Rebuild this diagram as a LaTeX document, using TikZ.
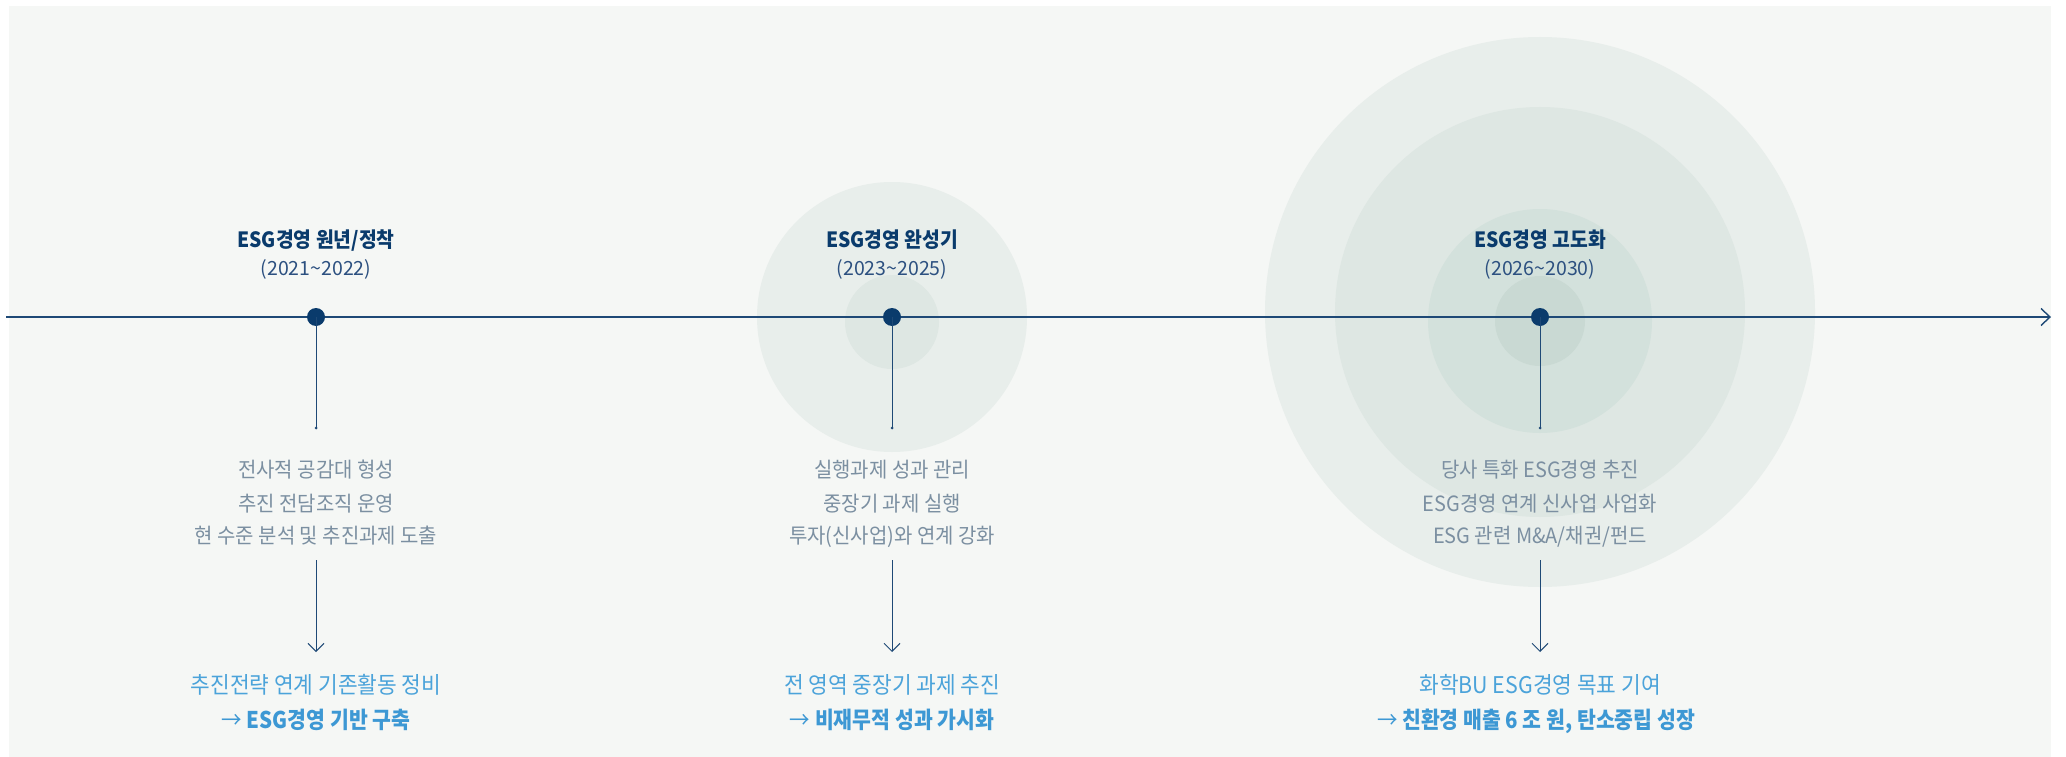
\documentclass[tikz,border=0pt]{standalone}
\usepackage{fontspec}
\usetikzlibrary{arrows.meta}
\newfontfamily\krtitle[FakeStretch=0.92]{Noto Sans CJK KR}
\newfontfamily\krdesc[FakeStretch=0.95]{Noto Sans CJK KR}
\newfontfamily\krres[FakeStretch=0.93]{Noto Sans CJK KR}
\newfontfamily\krresb[FakeStretch=0.89]{Noto Sans CJK KR}
\newfontfamily\krplain{Noto Sans CJK KR}
\definecolor{bgcol}{HTML}{F5F7F5}
\definecolor{ringA}{HTML}{E8EEEB}
\definecolor{ringB}{HTML}{DEE7E3}
\definecolor{ringC}{HTML}{D3E1DC}
\definecolor{ringD}{HTML}{C9D9D3}
\definecolor{navy}{HTML}{0A3B6C}
\definecolor{linecol}{HTML}{1E4976}
\definecolor{yearcol}{HTML}{2C5080}
\definecolor{desccol}{HTML}{7B8FA1}
\definecolor{rescol}{HTML}{4BA3DA}
\definecolor{resbold}{HTML}{3D98D4}
\tikzset{
  dotnode/.style={circle,fill=navy,inner sep=0pt,minimum size=18pt},
  titletext/.style={anchor=base,inner sep=0pt,text=navy,font=\krtitle\bfseries\fontsize{21}{25}\selectfont},
  yeartext/.style={anchor=base,inner sep=0pt,text=yearcol,font=\krplain\fontsize{19.5}{24}\selectfont},
  desctext/.style={anchor=base,inner sep=0pt,text=desccol,font=\krdesc\fontsize{21}{25}\selectfont},
  restext/.style={anchor=base,inner sep=0pt,text=rescol,font=\krres\fontsize{23}{27}\selectfont},
  resboldtext/.style={anchor=base,inner sep=0pt,text=resbold,font=\krresb\bfseries\fontsize{23}{27}\selectfont},
  stemline/.style={draw=linecol,line width=1pt},
  downarrow/.style={draw=linecol,line width=1pt,-{Straight Barb[length=8pt,width=16pt]}},
  mainline/.style={draw=linecol,line width=1.4pt,-{Straight Barb[length=9pt,width=17pt]}}
}
\begin{document}
\begin{tikzpicture}[x=1pt,y=-1pt]
\useasboundingbox (0,0) rectangle (2066,757);
\fill[bgcol] (9,6) rectangle (2051,757);
% rings around stage 2
\fill[ringA] (892,317) circle (135);
\fill[ringB] (892,322) circle (47);
% rings around stage 3
\fill[ringA] (1540,312) circle (275);
\fill[ringB] (1540,312) circle (205);
\fill[ringC] (1540,321) circle (112);
\fill[ringD] (1540,321) circle (45);
% timeline
\coordinate (tlstart) at (6,317);
\coordinate (tlend) at (2051,317);
\draw[mainline] (tlstart) -- (tlend);
% dots
\node[dotnode] (d1) at (316,317) {};
\node[dotnode] (d2) at (892,317) {};
\node[dotnode] (d3) at (1540,317) {};
% stems
\coordinate (s1) at (316,428);
\coordinate (s2) at (892,428);
\coordinate (s3) at (1540,428);
\draw[stemline] (d1.center) -- (s1);
\draw[stemline] (d2.center) -- (s2);
\draw[stemline] (d3.center) -- (s3);
\fill[linecol] (s1) circle (1.5);
\fill[linecol] (s2) circle (1.5);
\fill[linecol] (s3) circle (1.5);
% titles
\node[titletext] (t1) at (316,247) {ESG경영 원년/정착};
\node[yeartext] (y1) at (316,275) {(2021\textasciitilde 2022)};
\node[titletext] (t2) at (892,247) {ESG경영 완성기};
\node[yeartext] (y2) at (892,275) {(2023\textasciitilde 2025)};
\node[titletext] (t3) at (1540,247) {ESG경영 고도화};
\node[yeartext] (y3) at (1540,275) {(2026\textasciitilde 2030)};
% descriptions
\node[desctext] (p1a) at (316,477) {전사적 공감대 형성};
\node[desctext] (p1b) at (316,511) {추진 전담조직 운영};
\node[desctext] (p1c) at (316,543) {현 수준 분석 및 추진과제 도출};
\node[desctext] (p2a) at (892,477) {실행과제 성과 관리};
\node[desctext] (p2b) at (892,511) {중장기 과제 실행};
\node[desctext] (p2c) at (892,543) {투자(신사업)와 연계 강화};
\node[desctext] (p3a) at (1540,477) {당사 특화 ESG경영 추진};
\node[desctext] (p3b) at (1540,511) {ESG경영 연계 신사업 사업화};
\node[desctext] (p3c) at (1540,543) {ESG 관련 M\&A/채권/펀드};
% down arrows
\coordinate (a1s) at (316,560); \coordinate (a1e) at (316,652);
\coordinate (a2s) at (892,560); \coordinate (a2e) at (892,652);
\coordinate (a3s) at (1540,560); \coordinate (a3e) at (1540,652);
\draw[downarrow] (a1s) -- (a1e);
\draw[downarrow] (a2s) -- (a2e);
\draw[downarrow] (a3s) -- (a3e);
% results
\node[restext] (r1a) at (316,693.5) {추진전략 연계 기존활동 정비};
\node[resboldtext] (r1b) at (316,728.5) {{\mdseries →} ESG경영 기반 구축};
\node[restext] (r2a) at (892,693.5) {전 영역 중장기 과제 추진};
\node[resboldtext] (r2b) at (892,728.5) {{\mdseries →} 비재무적 성과 가시화};
\node[restext] (r3a) at (1540,693.5) {화학BU ESG경영 목표 기여};
\node[resboldtext] (r3b) at (1536,728.5) {{\mdseries →} 친환경 매출 6 조 원, 탄소중립 성장};
\end{tikzpicture}
\end{document}
